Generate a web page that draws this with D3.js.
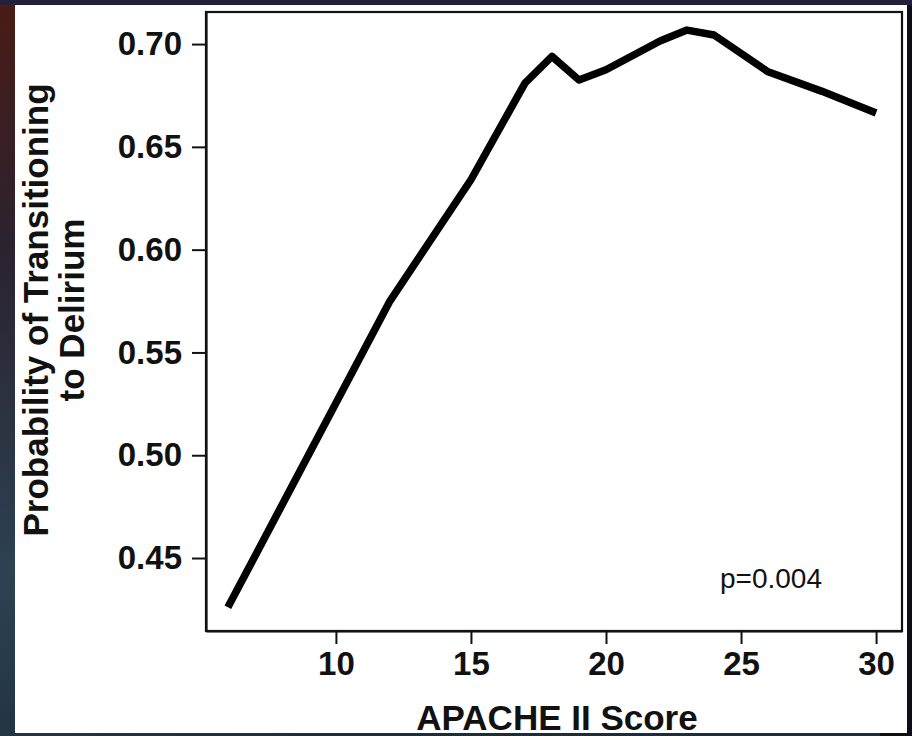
<!DOCTYPE html>
<html>
<head>
<meta charset="utf-8">
<script src="https://cdn.jsdelivr.net/npm/d3@7"></script>
<style>
  body { margin: 0; background: #1a1a26; }
  text { font-family: "Liberation Sans", Arial, sans-serif; }
</style>
</head>
<body>
<div id="chart"></div>
<script>
// APACHE II score vs probability of transitioning to delirium
var scores = [6, 12, 15, 17, 18, 19, 20, 22, 23, 24, 26, 28, 30];
var probs = [0.426, 0.575, 0.634, 0.681, 0.694, 0.6825, 0.6875, 0.7015, 0.7068, 0.7044, 0.6865, 0.677, 0.6665];
var xTicks = [10, 15, 20, 25, 30];
var yTicks = [0.45, 0.50, 0.55, 0.60, 0.65, 0.70];

var data = scores.map(function(s, i) { return { x: s, y: probs[i] }; });

var canvas = d3.select("#chart").append("svg")
	.attr("width", 912)
	.attr("height", 736)

// dark photo-like surround
var defs = canvas.append("defs")
var grad = defs.append("linearGradient")
	.attr("id", "bg")
	.attr("x1", 0).attr("y1", 0).attr("x2", 0.35).attr("y2", 1)
grad.append("stop").attr("offset", "0%").attr("stop-color", "#4a1c14")
grad.append("stop").attr("offset", "30%").attr("stop-color", "#2b2230")
grad.append("stop").attr("offset", "70%").attr("stop-color", "#2c4252")
grad.append("stop").attr("offset", "100%").attr("stop-color", "#1e2d3a")

canvas.append("rect")
	.attr("width", 912).attr("height", 736)
	.attr("fill", "url(#bg)")
canvas.append("rect")
	.attr("x", 880).attr("width", 32).attr("height", 736)
	.attr("fill", "#0e0f16")
canvas.append("rect")
	.attr("width", 912).attr("height", 5)
	.attr("fill", "#22203a")

// white slide
canvas.append("rect")
	.attr("x", 15).attr("y", 5)
	.attr("width", 892).attr("height", 728)
	.attr("fill", "#fff")

var plotLeft = 206, plotRight = 902, plotTop = 12, plotBottom = 631;

var x = d3.scaleLinear().domain([5.19, 30.96]).range([plotLeft, plotRight]);
var y = d3.scaleLinear().domain([0.4145, 0.7156]).range([plotBottom, plotTop]);

// frame
canvas.append("rect")
	.attr("x", plotLeft).attr("y", plotTop)
	.attr("width", plotRight - plotLeft).attr("height", plotBottom - plotTop)
	.attr("fill", "none")
	.attr("stroke", "#111")
	.attr("stroke-width", 2.2)

var yAxis = canvas.append("g")
	.attr("transform", "translate(" + plotLeft + ",0)")
	.call(d3.axisLeft(y).tickValues(yTicks).tickFormat(d3.format(".2f")).tickSize(14).tickSizeOuter(0).tickPadding(10))
yAxis.selectAll("line").attr("stroke", "#111").attr("stroke-width", 2)
yAxis.select(".domain").attr("stroke", "#111").attr("stroke-width", 2.2)
yAxis.selectAll("text")
	.attr("fill", "#111")
	.attr("font-size", "33px")
	.attr("font-weight", "bold")
	.style("font-family", "'Liberation Sans', Arial, sans-serif")

var xAxis = canvas.append("g")
	.attr("transform", "translate(0," + plotBottom + ")")
	.call(d3.axisBottom(x).tickValues(xTicks).tickSize(13).tickSizeOuter(0).tickPadding(8))
xAxis.selectAll("line").attr("stroke", "#111").attr("stroke-width", 2)
xAxis.select(".domain").attr("stroke", "#111").attr("stroke-width", 2.2)
xAxis.selectAll("text")
	.attr("fill", "#111")
	.attr("font-size", "33px")
	.attr("font-weight", "bold")
	.style("font-family", "'Liberation Sans', Arial, sans-serif")

// the curve
var line = d3.line()
	.x(function(d) { return x(d.x); })
	.y(function(d) { return y(d.y); })

canvas.append("path")
	.datum(data)
	.attr("d", line)
	.attr("fill", "none")
	.attr("stroke", "#000")
	.attr("stroke-width", 7.5)
	.attr("stroke-linejoin", "round")

// labels
canvas.append("text")
	.attr("x", 557)
	.attr("y", 730)
	.attr("text-anchor", "middle")
	.attr("font-size", "35px")
	.attr("font-weight", "bold")
	.attr("fill", "#111")
	.text("APACHE II Score")

var yTitle = canvas.append("text")
	.attr("transform", "translate(0,310) rotate(-90)")
	.attr("text-anchor", "middle")
	.attr("font-size", "35px")
	.attr("font-weight", "bold")
	.attr("fill", "#111")
yTitle.append("tspan").attr("x", 0).attr("y", 48).text("Probability of Transitioning")
yTitle.append("tspan").attr("x", 0).attr("y", 84).text("to Delirium")

canvas.append("text")
	.attr("x", 720)
	.attr("y", 588)
	.attr("font-size", "28px")
	.attr("fill", "#111")
	.text("p=0.004")
</script>
</body>
</html>
